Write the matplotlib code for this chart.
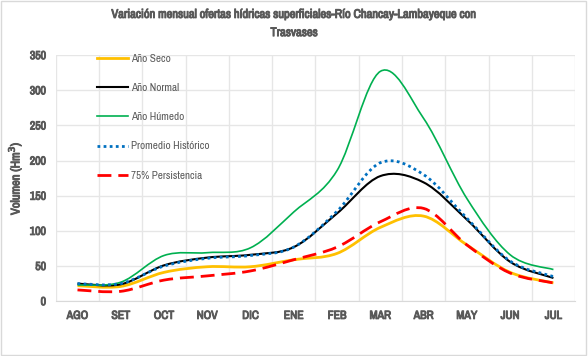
import numpy as np
import matplotlib
matplotlib.use("Agg")
import matplotlib.pyplot as plt
import matplotlib.patheffects as pe
from matplotlib import font_manager
from matplotlib.path import Path
from matplotlib.patches import PathPatch
from matplotlib.lines import Line2D

months = ["AGO", "SET", "OCT", "NOV", "DIC", "ENE", "FEB", "MAR", "ABR", "MAY", "JUN", "JUL"]
ano_seco = [22, 21, 41, 49, 49, 59, 68, 105, 121, 80, 41, 26]
ano_normal = [25, 24, 51, 62, 66, 77, 125, 178, 169, 116, 56, 33]
ano_humedo = [23, 27, 65, 69, 76, 127, 186, 327, 260, 146, 66, 45]
promedio = [25, 25, 50, 61, 65, 77, 128, 197, 180, 118, 57, 35]
persist75 = [16, 14, 30, 36, 43, 59, 77, 113, 132, 80, 40, 26]

grey = "#595959"

# use a narrow face if one is installed, otherwise Liberation Sans a bit smaller
narrow = None
for f in font_manager.fontManager.ttflist:
    if "narrow" in f.name.lower() or "condensed" in f.name.lower():
        narrow = f.name
        break
if narrow:
    plt.rcParams['font.family'] = [narrow, 'Liberation Sans', 'DejaVu Sans']
    title_size, tick_size, leg_size = 9, 8.5, 8
    bold = [pe.withStroke(linewidth=0.7, foreground=grey)]
    bw = "normal"
else:
    plt.rcParams['font.family'] = ['Liberation Sans', 'DejaVu Sans']
    title_size, tick_size, leg_size = 8, 7.5, 7
    bold = None
    bw = "bold"


def smooth_path(x, y, t=1/6):
    # Excel-like smoothed line: cubic bezier through points
    x = np.asarray(x, float)
    y = np.asarray(y, float)
    n = len(x)
    verts = [(x[0], y[0])]
    codes = [Path.MOVETO]
    for i in range(n - 1):
        p0 = (x[i - 1], y[i - 1]) if i > 0 else (x[i], y[i])
        p1 = (x[i], y[i])
        p2 = (x[i + 1], y[i + 1])
        p3 = (x[i + 2], y[i + 2]) if i + 2 < n else p2
        c1 = (p1[0] + (p2[0] - p0[0]) * t, p1[1] + (p2[1] - p0[1]) * t)
        c2 = (p2[0] - (p3[0] - p1[0]) * t, p2[1] - (p3[1] - p1[1]) * t)
        verts += [c1, c2, p2]
        codes += [Path.CURVE4] * 3
    return Path(verts, codes)


fig = plt.figure(figsize=(5.88, 3.56), dpi=100)
fig.patches.append(plt.Rectangle((0.002, 0.003), 0.995, 0.993, transform=fig.transFigure,
                                 fill=False, edgecolor="#d9d9d9", linewidth=1))
ax = fig.add_axes([0.095, 0.154, 0.883, 0.691])

xs = np.arange(len(months))
series = [
    ("Año Seco", ano_seco, "#FFC000", 2.0, "-"),
    ("Año Normal", ano_normal, "black", 1.5, "-"),
    ("Año Húmedo", ano_humedo, "#00B050", 1.2, "-"),
    ("Promedio Histórico", promedio, "#0070C0", 2.0, (0, (1, 1.2))),
    ("75% Persistencia", persist75, "#FF0000", 2.0, (0, (5, 2.5))),
]
handles = []
for label, vals, color, lw, ls in series:
    patch = PathPatch(smooth_path(xs, vals), facecolor="none", edgecolor=color,
                      linewidth=lw, linestyle=ls, zorder=3)
    ax.add_patch(patch)
    handles.append(Line2D([], [], color=color, linewidth=lw, linestyle=ls, label=label))

ax.set_xlim(-0.5, len(months) - 0.5)
ax.set_ylim(0, 350)
ax.set_yticks(np.arange(0, 351, 50))
ax.set_xticks(xs)
ax.set_xticklabels(months)
ax.set_xticks(np.arange(-0.5, len(months), 1), minor=True)
ax.grid(True, which="minor", axis="x", color="#e6e6e6", linewidth=1)
ax.grid(True, which="major", axis="y", color="#e6e6e6", linewidth=1)
ax.tick_params(which="both", length=0)
ax.tick_params(axis="both", labelsize=tick_size, labelcolor=grey, pad=7)
for lab in ax.get_xticklabels() + ax.get_yticklabels():
    lab.set_fontweight(bw)
    if bold:
        lab.set_path_effects(bold)
for s in ["top", "right", "left"]:
    ax.spines[s].set_visible(False)
ax.spines["bottom"].set_color("#d9d9d9")
ax.set_axisbelow(True)

yl = ax.set_ylabel("Volumen (Hm$^3$)", fontsize=tick_size + 0.5, color=grey, fontweight=bw, labelpad=4)
if bold:
    yl.set_path_effects(bold)

tt = fig.suptitle("Variación mensual ofertas hídricas superficiales-Río Chancay-Lambayeque con\nTrasvases",
                  x=0.5, y=0.975, fontsize=title_size, color=grey, fontweight=bw, linespacing=1.8)
if bold:
    tt.set_path_effects(bold)

leg = ax.legend(handles=handles, loc="upper left", bbox_to_anchor=(0.06, 1.045), frameon=False,
                fontsize=leg_size, labelcolor=grey, handlelength=2.8, labelspacing=1.72, handletextpad=0.3)

fig.savefig("out.png", dpi=100)
